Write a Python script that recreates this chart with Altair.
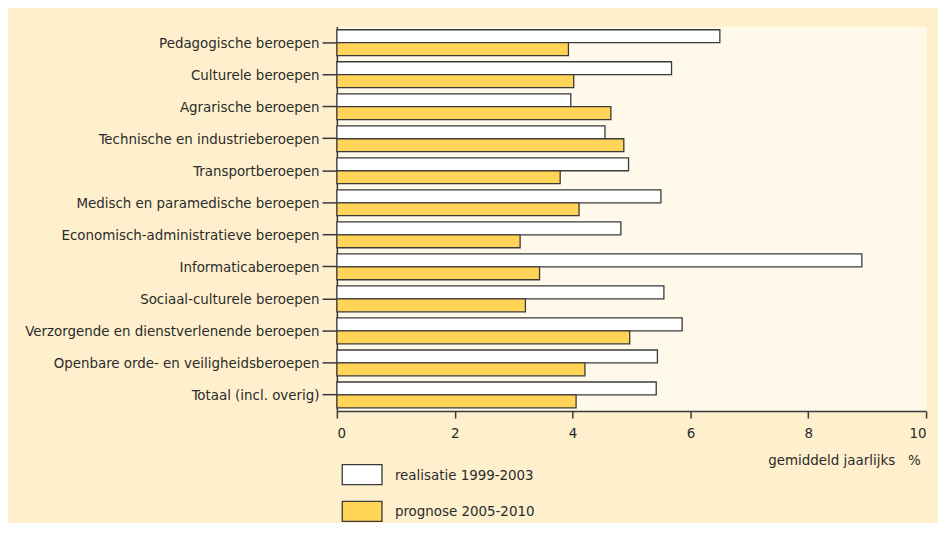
import altair as alt
import pandas as pd

categories = [
    "Pedagogische beroepen",
    "Culturele beroepen",
    "Agrarische beroepen",
    "Technische en industrieberoepen",
    "Transportberoepen",
    "Medisch en paramedische beroepen",
    "Economisch-administratieve beroepen",
    "Informaticaberoepen",
    "Sociaal-culturele beroepen",
    "Verzorgende en dienstverlenende beroepen",
    "Openbare orde- en veiligheidsberoepen",
    "Totaal (incl. overig)",
]
series = ["realisatie 1999-2003", "prognose 2005-2010"]
realisatie = [6.50, 5.68, 3.97, 4.55, 4.95, 5.50, 4.82, 8.91, 5.55, 5.86, 5.44, 5.42]
prognose = [3.93, 4.02, 4.65, 4.87, 3.79, 4.11, 3.11, 3.44, 3.20, 4.97, 4.21, 4.06]
x_ticks = [0, 2, 4, 6, 8, 10]
x_title = "gemiddeld jaarlijks \u00a0\u00a0%"

rows = []
for c, r, p in zip(categories, realisatie, prognose):
    rows.append({"beroep": c, "reeks": series[0], "waarde": r})
    rows.append({"beroep": c, "reeks": series[1], "waarde": p})
df = pd.DataFrame(rows)

FONT = "'DejaVu Sans Condensed', 'Liberation Sans', sans-serif"
FS = 15
TXT = "#2b2b2b"
LINE = "#3a3a3a"

chart = alt.Chart(df).mark_bar(stroke=LINE, strokeWidth=1.3).encode(
    x=alt.X(
        "waarde:Q",
        scale=alt.Scale(domain=[0, 10], nice=False, zero=True),
        axis=alt.Axis(
            values=x_ticks, grid=False, title=x_title,
            tickSize=7, tickColor=LINE, tickWidth=1.5,
            domainColor=LINE, domainWidth=1.5,
            labelFont=FONT, labelFontSize=FS, labelColor=TXT, labelPadding=8,
            titleFont=FONT, titleFontSize=FS, titleFontWeight="normal", titleColor=TXT,
            titleAnchor="end", titleAlign="right", titleBaseline="alphabetic",
            titleX=587, titleY=54,
        ),
    ),
    y=alt.Y(
        "beroep:N", sort=categories, title=None,
        scale=alt.Scale(paddingInner=0.193, paddingOuter=0.1),
        axis=alt.Axis(
            grid=False, tickSize=15, tickColor=LINE, tickWidth=1.5,
            domainColor=LINE, domainWidth=1.5,
            labelFont=FONT, labelFontSize=FS, labelColor=TXT, labelPadding=3,
            labelLimit=400,
        ),
    ),
    yOffset=alt.YOffset("reeks:N", sort=series, scale=alt.Scale(paddingInner=0, paddingOuter=0)),
    color=alt.Color(
        "reeks:N",
        sort=series,
        scale=alt.Scale(domain=series, range=["#ffffff", "#ffd457"]),
        legend=alt.Legend(
            title=None, orient="none", legendX=14.4, legendY=440,
            symbolType="M-2,-1H2V1H-2Z", symbolSize=400,
            symbolStrokeColor=LINE, symbolStrokeWidth=1.3, symbolOpacity=1,
            labelFont=FONT, labelFontSize=FS, labelColor=TXT, labelOffset=22,
            rowPadding=11, padding=0, labelLimit=300,
        ),
    ),
).properties(
    width=593, height=387,
    background="#fef0cd",
    padding={"left": 331, "top": 17, "right": 12, "bottom": 111},
    autosize=alt.AutoSizeParams(type="none"),
).configure_view(fill="#fff9ea", stroke="transparent")

chart.save("out.html", embed_options={"renderer": "svg", "actions": False})
